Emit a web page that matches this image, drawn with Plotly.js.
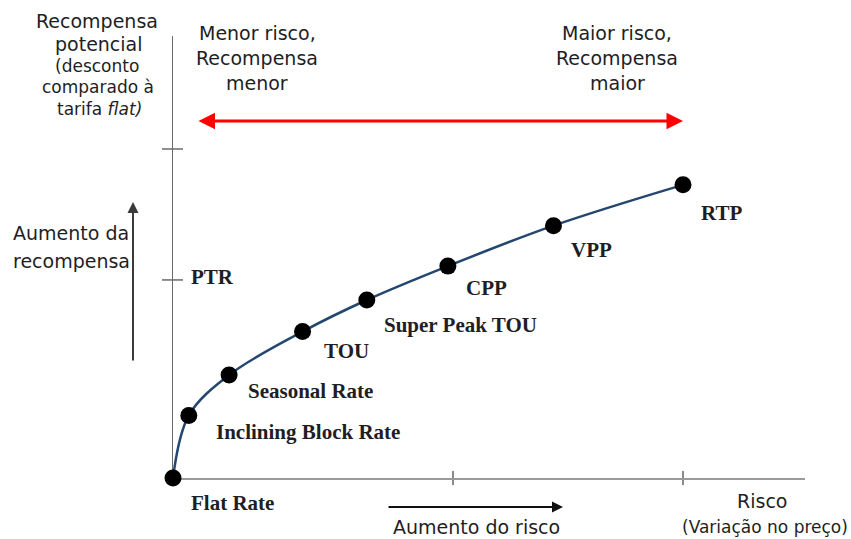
<!DOCTYPE html>
<html>
<head>
<meta charset="utf-8">
<script src="https://cdn.plot.ly/plotly-3.0.1.min.js"></script>
<style>html,body{margin:0;padding:0;background:#fff;}#chart{width:851px;height:539px;}</style>
</head>
<body>
<div id="chart"></div>
<script>
// ---- data ----
const rateNames = ['Flat Rate', 'Inclining Block Rate', 'Seasonal Rate', 'TOU', 'Super Peak TOU', 'CPP', 'VPP', 'RTP'];
const riskValues = [0, 3.1, 11.0, 25.4, 38.0, 53.9, 74.6, 100];
const rewardValues = [0, 19.0, 31.3, 44.5, 54.1, 64.4, 76.7, 89.1];
const xTickVals = [54.9, 100];
const yTickVals = [60.2, 100];
const yTickLabels = ['PTR', ''];

// ---- layout geometry (pixels) ----
const W = 851, H = 539;
const PL = 173, PR = 805, PT = 36, PB = 478;
const pw = PR - PL, ph = PB - PT;
const px = x => (x - PL) / pw;
const py = y => (PB - y) / ph;

const sans = 'DejaVu Sans, Liberation Sans, Arial, sans-serif';
const serif = 'Liberation Serif, Times New Roman, serif';
const txtColor = '#1e1e24';

// label offsets relative to each point (pixels)
const labelDx = [16, 25, 17, 19, 15, 16, 16, 16];
const labelDy = [-25, -17, -16, -19, -25, -22, -24, -28];

const annotations = [];
rateNames.forEach((n, i) => {
  annotations.push({
    x: riskValues[i], y: rewardValues[i], xref: 'x', yref: 'y',
    text: '<b>' + n + '</b>', showarrow: false, xanchor: 'left', yanchor: 'middle',
    xshift: labelDx[i], yshift: labelDy[i],
    font: {family: serif, size: 21, color: txtColor}
  });
});
yTickLabels.forEach((t, i) => {
  if (!t) return;
  annotations.push({
    x: 0, y: yTickVals[i], xref: 'x', yref: 'y', text: '<b>' + t + '</b>', showarrow: false,
    xanchor: 'left', yanchor: 'middle', xshift: 16, yshift: 3,
    font: {family: serif, size: 21, color: txtColor}
  });
});

function txt(s, x, y, size, anchor) {
  annotations.push({
    x: px(x), y: py(y), xref: 'paper', yref: 'paper', text: s, showarrow: false,
    xanchor: anchor || 'center', yanchor: 'middle',
    font: {family: sans, size: size, color: txtColor}
  });
}
txt('Recompensa', 97, 21, 19);
txt('potencial', 99, 44, 19);
txt('(desconto', 97, 66, 17);
txt('comparado à', 98, 87, 17);
txt('tarifa <i>flat)</i>', 99, 109, 17);
txt('Menor risco,', 257, 33, 19);
txt('Recompensa', 257, 58, 19);
txt('menor', 257, 83, 19);
txt('Maior risco,', 617, 33, 19);
txt('Recompensa', 617, 58, 19);
txt('maior', 617, 83, 19);
txt('Aumento da', 11, 233, 19, 'left');
txt('recompensa', 11, 261, 19, 'left');
txt('Aumento do risco', 476, 527, 19);
txt('Risco', 762, 501, 19);
txt('(Variação no preço)', 765, 527, 17);

function arrow(tipX, tipY, tailX, tailY, color, width, both) {
  annotations.push({
    x: px(tipX), y: py(tipY), xref: 'paper', yref: 'paper',
    ax: tailX - tipX, ay: tailY - tipY, axref: 'pixel', ayref: 'pixel',
    text: '', showarrow: true, arrowhead: 2, arrowsize: 1.1, arrowwidth: width,
    arrowcolor: color, arrowside: both ? 'end+start' : 'end', standoff: 0, startstandoff: 0
  });
}
arrow(683, 121, 197, 121, '#ff0000', 3, true);
arrow(133, 202, 133, 362, '#3a3a3a', 2, false);
arrow(563, 507, 387, 507, '#111111', 2, false);

const shapes = [];
xTickVals.forEach(v => shapes.push({
  type: 'line', xref: 'x', yref: 'paper', x0: v, x1: v, y0: -7 / ph, y1: 7 / ph,
  line: {color: '#8a8a8a', width: 2}, layer: 'below'
}));
yTickVals.forEach(v => shapes.push({
  type: 'line', xref: 'paper', yref: 'y', x0: -11 / pw, x1: 10 / pw, y0: v, y1: v,
  line: {color: '#6a6a6a', width: 1.5}, layer: 'below'
}));

const trace = {
  x: riskValues, y: rewardValues, type: 'scatter', mode: 'lines+markers',
  line: {shape: 'spline', smoothing: 1, color: '#24476f', width: 2.5},
  marker: {size: 17, color: '#000000'},
  cliponaxis: false, hoverinfo: 'skip', showlegend: false
};

const layout = {
  width: W, height: H,
  margin: {l: PL, r: W - PR, t: PT, b: H - PB, pad: 0},
  paper_bgcolor: '#ffffff', plot_bgcolor: '#ffffff',
  xaxis: {range: [0, (PR - PL) / 5.1], showgrid: false, zeroline: false, showline: true, layer: 'below traces',
          linecolor: '#9a9a9a', linewidth: 2, showticklabels: false, ticks: '', fixedrange: true},
  yaxis: {range: [0, (PB - PT) / 3.29], showgrid: false, zeroline: false, showline: true, layer: 'below traces',
          linecolor: '#6a6a6a', linewidth: 1.5, showticklabels: false, ticks: '', fixedrange: true},
  annotations: annotations, shapes: shapes, showlegend: false
};

Plotly.newPlot('chart', [trace], layout, {staticPlot: true, displayModeBar: false});
</script>
</body>
</html>
